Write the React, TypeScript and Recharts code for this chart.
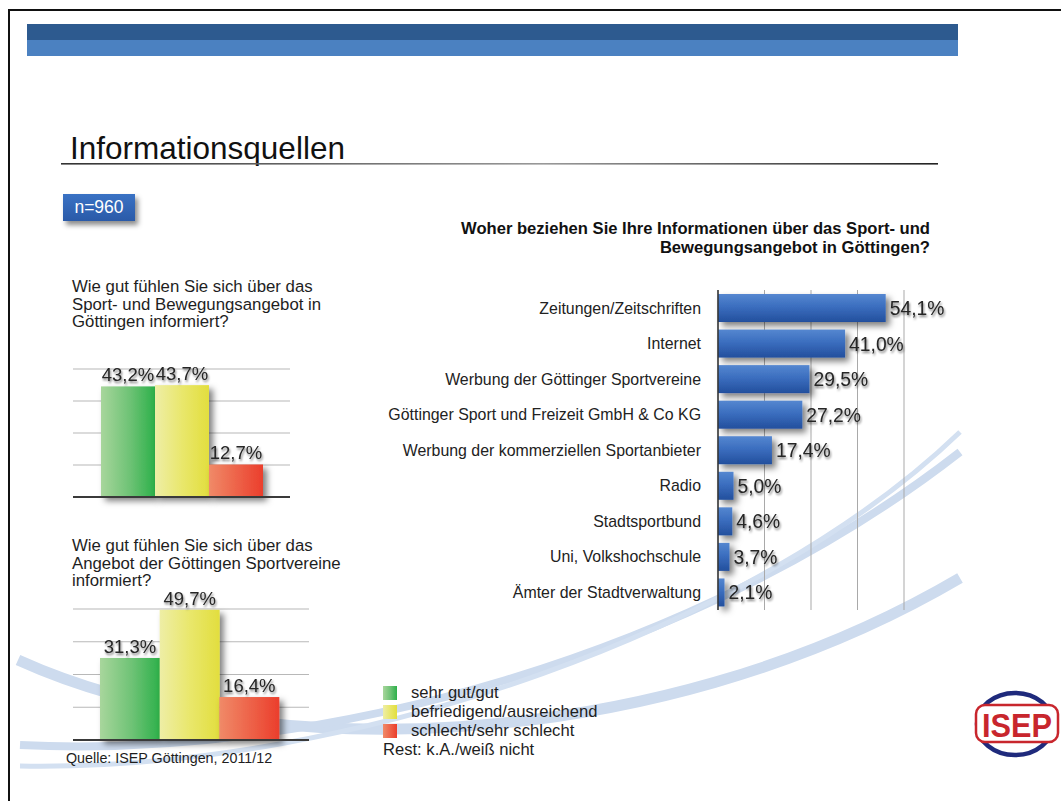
import React from 'react';
import { BarChart, Bar, XAxis, YAxis, CartesianGrid, Cell, LabelList } from 'recharts';

// left: two rating questions
const ratingLabels = ['sehr gut/gut', 'befriedigend/ausreichend', 'schlecht/sehr schlecht'];
const ratingFills = ['url(#gradGreen)', 'url(#gradYellow)', 'url(#gradRed)'];
const sportangebotValues = [43.2, 43.7, 12.7];
const vereineValues = [31.3, 49.7, 16.4];
const ratingTicks = [0, 12.5, 25, 37.5, 50];

// right: information sources
const sourceLabels = [
  'Zeitungen/Zeitschriften',
  'Internet',
  'Werbung der Göttinger Sportvereine',
  'Göttinger Sport und Freizeit GmbH & Co KG',
  'Werbung der kommerziellen Sportanbieter',
  'Radio',
  'Stadtsportbund',
  'Uni, Volkshochschule',
  'Ämter der Stadtverwaltung',
];
const sourceValues = [54.1, 41.0, 29.5, 27.2, 17.4, 5.0, 4.6, 3.7, 2.1];
const sourceTicks = [0, 15, 30, 45, 60];

const FONT = '"Liberation Sans", Arial, Helvetica, sans-serif';
const pct = (v: number) => v.toFixed(1).replace('.', ',') + '%';

const sportData = ratingLabels.map((name, i) => ({ name, value: sportangebotValues[i] }));
const vereineData = ratingLabels.map((name, i) => ({ name, value: vereineValues[i] }));
const sourceData = sourceLabels.map((name, i) => ({ name, value: sourceValues[i] }));

const ShadowRect = (p: any) => (
  <rect x={p.x} y={p.y} width={p.width} height={p.height} fill={p.fill} filter="url(#barShadow)" />
);

const TopLabel = (p: any) => {
  const vb = p.viewBox || p;
  return (
    <text
      x={vb.x + vb.width / 2}
      y={vb.y - 5}
      textAnchor="middle"
      fontSize={18.5}
      fontFamily={FONT}
      fill="#262626"
      filter="url(#textShadow)"
    >
      {pct(p.value)}
    </text>
  );
};

const RightLabel = (p: any) => {
  const vb = p.viewBox || p;
  return (
    <text
      x={vb.x + vb.width + 4}
      y={vb.y + vb.height / 2}
      dy="0.36em"
      fontSize={19.3}
      fontFamily={FONT}
      fill="#262626"
      filter="url(#textShadow)"
    >
      {pct(p.value)}
    </text>
  );
};

const SourceTick = (p: any) => (
  <text x={p.x} y={p.y} dy="0.36em" textAnchor="end" fontSize={15.9} fontFamily={FONT} fill="#222">
    {p.payload.value}
  </text>
);

function RatingChart({ data, left, top, plotWidth, plotHeight, padLeft, padRight }: any) {
  const mt = 34;
  const mb = 14;
  return (
    <div style={{ position: 'absolute', left, top: top - mt }}>
      <BarChart
        width={plotWidth + 20}
        height={mt + plotHeight + 1 + mb}
        data={data}
        margin={{ top: mt, right: 20, left: 0, bottom: mb }}
        barCategoryGap={0}
        barGap={0}
      >
        <CartesianGrid vertical={false} stroke="#b8b8b8" strokeWidth={1.2} />
        <XAxis
          dataKey="name"
          tick={false}
          tickLine={false}
          height={1}
          axisLine={{ stroke: '#3a3a3a', strokeWidth: 2 }}
          padding={{ left: padLeft, right: padRight }}
        />
        <YAxis hide domain={[0, 50]} ticks={ratingTicks} />
        <Bar dataKey="value" isAnimationActive={false} shape={ShadowRect}>
          {data.map((d: any, i: number) => (
            <Cell key={d.name} fill={ratingFills[i]} />
          ))}
          <LabelList dataKey="value" content={TopLabel} />
        </Bar>
      </BarChart>
    </div>
  );
}

const text = (extra: React.CSSProperties): React.CSSProperties => ({
  position: 'absolute',
  fontFamily: FONT,
  color: '#1e1e1e',
  whiteSpace: 'nowrap',
  ...extra,
});

export default function App() {
  return (
    <div
      style={{
        position: 'absolute',
        left: 0,
        top: 0,
        width: 1061,
        height: 801,
        background: '#fff',
        overflow: 'hidden',
        fontFamily: FONT,
      }}
    >
      {/* shared gradients and shadows */}
      <svg width={0} height={0} style={{ position: 'absolute' }}>
        <defs>
          <linearGradient id="gradBlue" x1="0" y1="0" x2="0" y2="1">
            <stop offset="0" stopColor="#5587d0" />
            <stop offset="0.45" stopColor="#3b6ebf" />
            <stop offset="1" stopColor="#234f9d" />
          </linearGradient>
          <linearGradient id="gradGreen" x1="0" y1="0" x2="1" y2="0">
            <stop offset="0" stopColor="#a8d69c" />
            <stop offset="0.55" stopColor="#6cc274" />
            <stop offset="1" stopColor="#2db04a" />
          </linearGradient>
          <linearGradient id="gradYellow" x1="0" y1="0" x2="1" y2="0">
            <stop offset="0" stopColor="#eeeea6" />
            <stop offset="0.5" stopColor="#e9e76c" />
            <stop offset="1" stopColor="#e2de3e" />
          </linearGradient>
          <linearGradient id="gradRed" x1="0" y1="0" x2="1" y2="0">
            <stop offset="0" stopColor="#f08a68" />
            <stop offset="1" stopColor="#eb3e2c" />
          </linearGradient>
          <linearGradient id="ruleGrad" x1="0" y1="0" x2="1" y2="0">
            <stop offset="0" stopColor="#333" />
            <stop offset="0.55" stopColor="#999" />
            <stop offset="1" stopColor="#222" />
          </linearGradient>
          <filter id="barShadow" filterUnits="userSpaceOnUse" x="-100" y="-100" width="1400" height="1100">
            <feDropShadow dx="4" dy="4" stdDeviation="3" floodColor="#000" floodOpacity="0.5" />
          </filter>
          <filter id="textShadow" filterUnits="userSpaceOnUse" x="-100" y="-100" width="1400" height="1100">
            <feDropShadow dx="1" dy="2" stdDeviation="1.3" floodColor="#000" floodOpacity="0.5" />
          </filter>
        </defs>
      </svg>

      {/* page frame */}
      <div style={{ position: 'absolute', left: 8, top: 9, width: 1053, height: 2, background: '#111' }} />
      <div style={{ position: 'absolute', left: 8, top: 9, width: 2, height: 792, background: '#111' }} />

      {/* decorative swooshes */}
      <svg width={1061} height={801} style={{ position: 'absolute', left: 0, top: 0 }}>
        <path d="M 18 660 C 250 765, 650 760, 960 578" stroke="#cddbee" strokeWidth={11} fill="none" />
        <path d="M 20 745 C 320 760, 700 655, 960 452" stroke="#cddbee" strokeWidth={8} fill="none" />
        <path d="M 20 766 C 360 772, 760 625, 960 432" stroke="#d3e0f1" strokeWidth={5} fill="none" />
      </svg>

      {/* banner */}
      <div style={{ position: 'absolute', left: 27, top: 24, width: 931, height: 16, background: '#2d5a8f' }} />
      <div style={{ position: 'absolute', left: 27, top: 40, width: 931, height: 16, background: '#4b81c1' }} />

      {/* title */}
      <div style={text({ left: 70, top: 133, fontSize: 31.5, lineHeight: '31px', color: '#111' })}>
        Informationsquellen
      </div>
      <svg width={880} height={3} style={{ position: 'absolute', left: 61, top: 163 }}>
        <rect x={0} y={0} width={877} height={1.6} fill="url(#ruleGrad)" />
      </svg>

      {/* sample size */}
      <div
        style={text({
          left: 63,
          top: 194,
          width: 72,
          height: 27,
          lineHeight: '27px',
          textAlign: 'center',
          color: '#fff',
          fontSize: 17.5,
          background: 'linear-gradient(#3a72c4, #2a5aa8)',
          boxShadow: '3px 4px 5px rgba(0,0,0,0.45)',
        })}
      >
        n=960
      </div>

      {/* questions */}
      <div style={text({ left: 72, top: 278, fontSize: 16.8, lineHeight: '17.5px' })}>
        Wie gut fühlen Sie sich über das
        <br />
        Sport- und Bewegungsangebot in
        <br />
        Göttingen informiert?
      </div>
      <div style={text({ left: 72, top: 537, fontSize: 16.8, lineHeight: '17.5px' })}>
        Wie gut fühlen Sie sich über das
        <br />
        Angebot der Göttingen Sportvereine
        <br />
        informiert?
      </div>
      <div
        style={text({
          left: 400,
          top: 219,
          width: 530,
          textAlign: 'right',
          fontSize: 16.6,
          fontWeight: 'bold',
          lineHeight: '19px',
          color: '#111',
        })}
      >
        Woher beziehen Sie Ihre Informationen über das Sport- und
        <br />
        Bewegungsangebot in Göttingen?
      </div>

      <RatingChart data={sportData} left={73} top={369} plotWidth={217} plotHeight={128} padLeft={28} padRight={27} />
      <RatingChart data={vereineData} left={73} top={609} plotWidth={236} plotHeight={131} padLeft={27} padRight={30} />

      {/* sources chart */}
      <div style={{ position: 'absolute', left: 380, top: 285 }}>
        <BarChart
          layout="vertical"
          width={584}
          height={340}
          data={sourceData}
          margin={{ top: 5, right: 60, left: 0, bottom: 15 }}
        >
          <CartesianGrid horizontal={false} stroke="#a9a9a9" />
          <XAxis type="number" hide domain={[0, 60]} ticks={sourceTicks} />
          <YAxis
            type="category"
            dataKey="name"
            width={338}
            interval={0}
            tickLine={false}
            tickMargin={11}
            axisLine={{ stroke: '#333', strokeWidth: 1.5 }}
            tick={SourceTick}
          />
          <Bar dataKey="value" barSize={28} fill="url(#gradBlue)" shape={ShadowRect} isAnimationActive={false}>
            <LabelList dataKey="value" content={RightLabel} />
          </Bar>
        </BarChart>
      </div>

      {/* legend */}
      {ratingFills.map((f, i) => (
        <svg key={f} width={14} height={14} style={{ position: 'absolute', left: 383, top: 686 + i * 19 }}>
          <rect x={0} y={0} width={14} height={14} fill={f} />
        </svg>
      ))}
      {ratingLabels.map((l, i) => (
        <div key={l} style={text({ left: 411, top: 684 + i * 19, fontSize: 16.6, lineHeight: '18px' })}>
          {l}
        </div>
      ))}
      <div style={text({ left: 383, top: 741, fontSize: 16.6, lineHeight: '18px' })}>Rest: k.A./weiß nicht</div>

      <div style={text({ left: 66, top: 750, fontSize: 14.3, lineHeight: '16px' })}>
        Quelle: ISEP Göttingen, 2011/12
      </div>

      {/* logo */}
      <svg width={93} height={85} style={{ position: 'absolute', left: 968, top: 684 }}>
        <ellipse cx={47} cy={40} rx={38} ry={31} fill="none" stroke="#1f2a7c" strokeWidth={4.5} />
        <rect x={8} y={21} width={82} height={37} rx={9} fill="#fff" stroke="#c8262d" strokeWidth={2.5} />
        <text
          x={49}
          y={53}
          textAnchor="middle"
          fontSize={33}
          fontWeight="bold"
          fontFamily={FONT}
          fill="#c8262d"
          textLength={70}
          lengthAdjust="spacingAndGlyphs"
        >
          ISEP
        </text>
      </svg>
    </div>
  );
}
